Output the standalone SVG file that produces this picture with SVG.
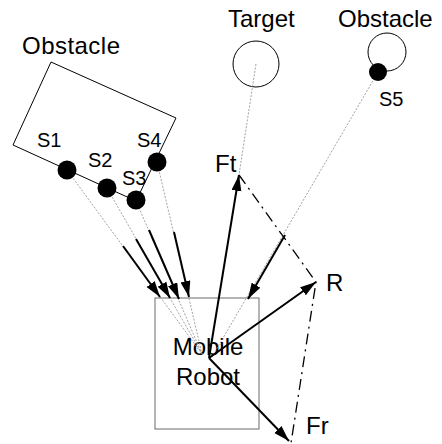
<svg xmlns="http://www.w3.org/2000/svg" width="442" height="444" viewBox="0 0 442 444">
<style>
text{font-family:"Liberation Sans",Arial,sans-serif;fill:#000}
.big{font-size:24px}
.sm{font-size:20px}
.dot{stroke:#8a8a8a;stroke-width:0.8;stroke-dasharray:2,1.5;fill:none}
.arr{stroke:#000;stroke-width:2;fill:none;marker-end:url(#ah)}
.dd{stroke:#000;stroke-width:1.3;fill:none;stroke-dasharray:11,5,2,5}
.sensor{fill:#000}
</style>
<defs>
<marker id="ah" markerUnits="userSpaceOnUse" markerWidth="17" markerHeight="11" refX="16" refY="5" orient="auto">
<path d="M0,0 L16,5 L0,10 z" fill="#000"/>
</marker>
</defs>
<rect width="442" height="444" fill="#fff"/>

<g id="robot">
<rect x="155" y="298" width="104" height="131" fill="none" stroke="#6a6a6a" stroke-width="1"/>
<text class="big" x="208" y="355" text-anchor="middle">Mobile</text>
<text class="big" x="208" y="385" text-anchor="middle">Robot</text>
</g>

<g id="obstacle-box">
<polygon points="51,62 176,118 136,201 13,145" fill="none" stroke="#000" stroke-width="1"/>
<text class="big" x="22" y="54" textLength="98" lengthAdjust="spacing">Obstacle</text>
</g>

<g id="target">
<circle cx="256" cy="64" r="23" fill="none" stroke="#000" stroke-width="1"/>
<text class="big" x="228" y="27">Target</text>
</g>

<g id="obstacle-round">
<circle cx="387" cy="52" r="19" fill="none" stroke="#000" stroke-width="1"/>
<text class="big" x="338" y="27">Obstacle</text>
</g>

<g id="connectors">
<line class="dot" x1="67" y1="170" x2="202" y2="354"/>
<line class="dot" x1="107" y1="188" x2="202" y2="354"/>
<line class="dot" x1="136" y1="201" x2="202" y2="354"/>
<line class="dot" x1="157" y1="162" x2="202" y2="354"/>
<line class="dot" x1="378" y1="72" x2="212" y2="357"/>
<line class="dot" x1="256" y1="64" x2="239" y2="175"/>
<line class="arr" x1="123" y1="246" x2="160" y2="297"/>
<line class="arr" x1="136" y1="239" x2="170" y2="298"/>
<line class="arr" x1="149" y1="230" x2="179" y2="299"/>
<line class="arr" x1="174" y1="232" x2="189" y2="297"/>
<line class="arr" x1="285" y1="235" x2="248" y2="299"/>
<line class="arr" x1="209" y1="358" x2="239" y2="175"/>
<line class="arr" x1="209" y1="358" x2="316" y2="282"/>
<line class="arr" x1="209" y1="358" x2="289" y2="441"/>
<polyline class="dd" points="239,175 316,282 291,443"/>
</g>

<g id="s1"><circle class="sensor" cx="67" cy="170" r="9.5"/><text class="sm" x="37" y="147">S1</text></g>
<g id="s2"><circle class="sensor" cx="107" cy="188" r="9.5"/><text class="sm" x="88" y="167">S2</text></g>
<g id="s3"><circle class="sensor" cx="136" cy="200" r="9.5"/><text class="sm" x="122" y="185">S3</text></g>
<g id="s4"><circle class="sensor" cx="157" cy="162" r="9.5"/><text class="sm" x="137" y="147">S4</text></g>
<g id="s5"><circle class="sensor" cx="378" cy="72" r="9"/><text class="sm" x="379" y="106">S5</text></g>

<g id="ft"><text class="big" x="215" y="172">Ft</text></g>
<g id="r"><text class="big" x="326" y="291">R</text></g>
<g id="fr"><text class="big" x="306" y="434">Fr</text></g>
</svg>
